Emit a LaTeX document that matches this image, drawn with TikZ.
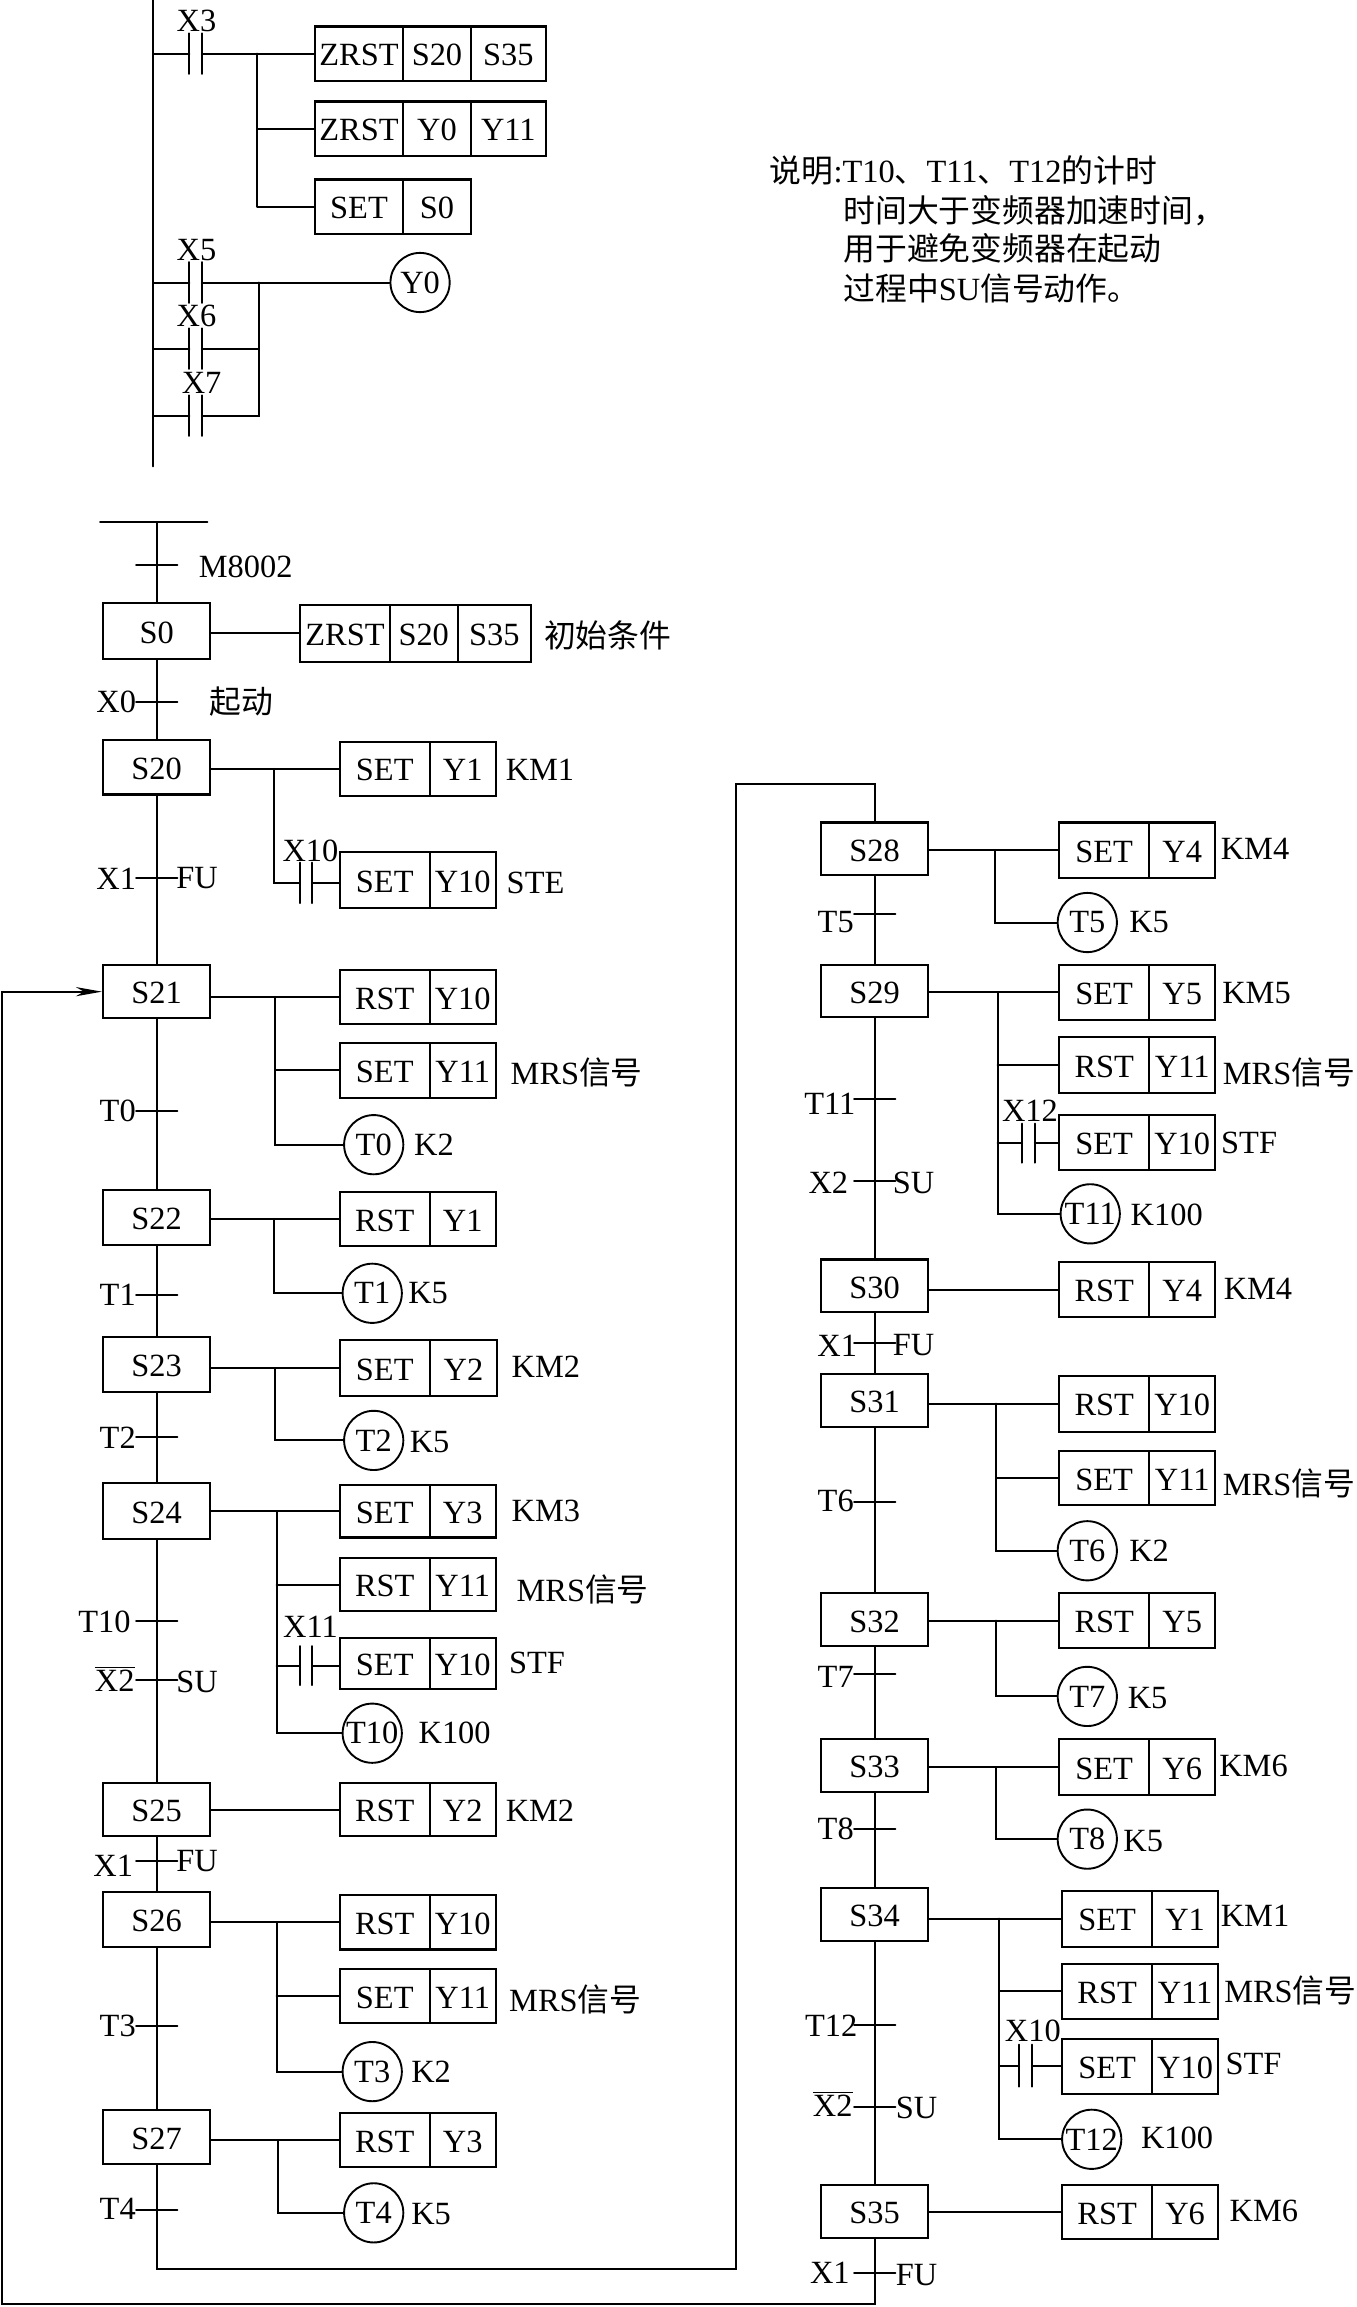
\documentclass[tikz,border=0pt]{standalone}
\usepackage{fontspec}
\setmainfont{Liberation Serif}
\newfontfamily\cjkf{Noto Sans CJK SC}
\newcommand{\cjk}{\cjkf\fontsize{15.9}{18}\selectfont}
\usetikzlibrary{arrows.meta}
\newcount\labc
\tikzset{
  wire/.style={line width=1pt,line cap=round},
  stepbox/.style={draw,line width=1.05pt,rectangle,inner sep=0pt,text height=12.2pt,text depth=0pt},
  cellbox/.style={draw,line width=1.05pt,rectangle,inner sep=0pt,text height=12.2pt,text depth=0pt},
  coilc/.style={draw,line width=0.95pt,circle,inner sep=0pt,minimum size=29.6pt},
  contactn/.style={rectangle,inner sep=0pt,minimum width=5.9pt,minimum height=19.5pt},
  lbl/.style={inner sep=0pt},
  every node/.append style={font=\fontsize{16.2}{18}\selectfont}
}
% step: name, cx, y1, y2
\newcommand{\stepn}[4]{\node[stepbox,minimum width=53.7pt,minimum height={(#4-#3)*0.7354pt}] (#1) at (#2,{(#3+#4)/2}) {#1};}
% two cells: name, x1,x2,x3, y1,y2, t1,t2
\newcommand{\cellsb}[8]{%
  \node[cellbox,minimum width={(#3-#2)*0.7354pt},minimum height={(#6-#5)*0.7354pt}] (#1) at ({(#2+#3)/2},{(#5+#6)/2}) {#7};
  \node[cellbox,minimum width={(#4-#3)*0.7354pt},minimum height={(#6-#5)*0.7354pt}] (#1b) at ({(#3+#4)/2},{(#5+#6)/2}) {#8};}
% extra third cell: name, x1,x2, y1,y2, text
\newcommand{\cellx}[6]{\node[cellbox,minimum width={(#3-#2)*0.7354pt},minimum height={(#5-#4)*0.7354pt}] (#1) at ({(#2+#3)/2},{(#4+#5)/2}) {#6};}
% label
\newcommand{\lab}[3]{\global\advance\labc by 1\node[lbl] (lab\the\labc) at (#1,#2) {#3};}
% coil: name,cx,cy,text
\newcommand{\coil}[4]{\node[coilc] (#1) at (#2,#3) {#4};}
% tick: x,y
\newcommand{\tickm}[2]{\draw[wire] ({#1-14},#2) -- ({#1+14},#2);}
% contact: name,cx,cy,half height
\newcommand{\contact}[4]{\node[contactn,minimum height={2*#4*0.7354pt}] (#1) at (#2,#3) {};
  \draw[wire] (#1.north west) -- (#1.south west) (#1.north east) -- (#1.south east);}
\newcommand{\xbar}{$\overline{\hbox{X2}}$}
\newcommand{\mrs}{MRS{\cjk 信号}}
\begin{document}
\begin{tikzpicture}[x=0.7354pt,y=-0.7354pt]
\useasboundingbox (0,0) rectangle (922,1568);
\fill[white] (0,0) rectangle (922,1568);
% ---- ladder
\coordinate (railt) at (104,0);
\coordinate (railb) at (104,317);
\draw[wire] (railt) -- (railb);
\contact{cX3}{133}{36.5}{13.5}
\lab{133.5}{14}{X3}
\cellsb{zA}{214}{274}{320}{18}{55}{ZRST}{S20}
\cellx{zAc}{320}{371}{18}{55}{S35}
\cellsb{zB}{214}{274}{320}{69}{106}{ZRST}{Y0}
\cellx{zBc}{320}{371}{69}{106}{Y11}
\cellsb{zC}{214}{274}{320}{122}{159}{SET}{S0}
\coordinate (brL) at (175,0);
\draw[wire] (railt |- cX3.west) -- (cX3.west);
\draw[wire] (cX3.east) -- (zA.west);
\draw[wire] (brL |- zA.west) -- (brL |- zC.west);
\draw[wire] (brL |- zB.west) -- (zB.west);
\draw[wire] (brL |- zC.west) -- (zC.west);
\contact{cX5}{133}{192}{13.5}
\contact{cX6}{133}{237}{13.5}
\contact{cX7}{133}{282.5}{13.5}
\lab{133.5}{170}{X5}
\lab{133.5}{215}{X6}
\lab{137}{260}{X7}
\coil{cY0}{285.5}{192}{Y0}
\coordinate (brR) at (176,0);
\draw[wire] (railt |- cX5.west) -- (cX5.west);
\draw[wire] (cX5.east) -- (cY0.west);
\draw[wire] (railt |- cX6.west) -- (cX6.west);
\draw[wire] (cX6.east) -- (brR |- cX6.east);
\draw[wire] (railt |- cX7.west) -- (cX7.west);
\draw[wire] (cX7.east) -- (brR |- cX7.east) -- (brR |- cX5.east);
% ---- description
\node[lbl,anchor=west] (dA) at (523,116) {{\cjk 说明}:T10{\cjk 、}T11{\cjk 、}T12{\cjk 的计时}};
\node[lbl,anchor=west] (dB) at (573,143) {{\cjk 时间大于变频器加速时间，}};
\node[lbl,anchor=west] (dC) at (573,169) {{\cjk 用于避免变频器在起动}};
\node[lbl,anchor=west] (dD) at (573,196) {{\cjk 过程中}SU{\cjk 信号动作。}};
% ---- left column
\coordinate (barL) at (68,355);
\coordinate (barR) at (141,355);
\coordinate (barM) at (106.5,355);
\draw[wire] (barL) -- (barR);
\stepn{S0}{106.5}{410}{448}
\stepn{S20}{106.5}{503}{540}
\stepn{S21}{106.5}{656}{692}
\stepn{S22}{106.5}{809}{846}
\stepn{S23}{106.5}{909}{946}
\stepn{S24}{106.5}{1008}{1046}
\stepn{S25}{106.5}{1212}{1248}
\stepn{S26}{106.5}{1286}{1323}
\stepn{S27}{106.5}{1434}{1471}
\draw[wire] (barM) -- (S0.north);
\draw[wire] (S0) -- (S20);
\draw[wire] (S20) -- (S21);
\draw[wire] (S21) -- (S22);
\draw[wire] (S22) -- (S23);
\draw[wire] (S23) -- (S24);
\draw[wire] (S24) -- (S25);
\draw[wire] (S25) -- (S26);
\draw[wire] (S26) -- (S27);
\tickm{106.5}{384}\lab{167}{385}{M8002}
\cellsb{a0}{204}{265}{311}{411}{450}{ZRST}{S20}
\cellx{a0c}{311}{361}{411}{450}{S35}
\draw[wire] (S0.east |- a0.west) -- (a0.west);
\lab{413}{432}{\cjk 初始条件}
\tickm{106.5}{477}\lab{79}{477}{X0}\lab{164}{477}{\cjk 起动}
% S20
\cellsb{a1}{231}{292}{337}{504}{541}{SET}{Y1}
\lab{367}{523}{KM1}
\contact{cX10}{208}{600}{13.5}
\lab{211}{578}{X10}
\cellsb{a2}{231}{292}{337}{579}{617}{SET}{Y10}
\lab{364}{600}{STE}
\coordinate (b20) at (186,0);
\draw[wire] (S20.east |- a1.west) -- (a1.west);
\draw[wire] (b20 |- a1.west) -- (b20 |- cX10.west) -- (cX10.west);
\draw[wire] (cX10.east) -- (a2.west |- cX10.east);
\tickm{106.5}{597}\lab{79}{597}{X1}\lab{134}{597}{FU}
% S21
\cellsb{a3}{231}{292}{337}{659}{696}{RST}{Y10}
\cellsb{a4}{231}{292}{337}{709}{746}{SET}{Y11}
\lab{392}{729}{\mrs}
\coil{cT0}{254}{778}{T0}\lab{295}{778}{K2}
\coordinate (b21) at (187,0);
\draw[wire] (S21.east |- a3.west) -- (a3.west);
\draw[wire] (b21 |- a3.west) -- (b21 |- cT0.west) -- (cT0.west);
\draw[wire] (b21 |- a4.west) -- (a4.west);
\tickm{106.5}{755}\lab{80}{755}{T0}
% S22
\cellsb{a5}{231}{292}{337}{810}{847}{RST}{Y1}
\coil{cT1}{253}{879}{T1}\lab{291}{879}{K5}
\coordinate (b22) at (186,0);
\draw[wire] (S22.east |- a5.west) -- (a5.west);
\draw[wire] (b22 |- a5.west) -- (b22 |- cT1.west) -- (cT1.west);
\tickm{106.5}{880}\lab{80}{880}{T1}
% S23
\cellsb{a6}{231}{292}{338}{911}{949}{SET}{Y2}
\lab{371}{929}{KM2}
\coil{cT2}{254}{979}{T2}\lab{292}{980}{K5}
\coordinate (b23) at (187,0);
\draw[wire] (S23.east |- a6.west) -- (a6.west);
\draw[wire] (b23 |- a6.west) -- (b23 |- cT2.west) -- (cT2.west);
\tickm{106.5}{977}\lab{80}{977}{T2}
% S24
\cellsb{a7}{231}{292}{337}{1009}{1045}{SET}{Y3}
\lab{371}{1027}{KM3}
\cellsb{a8}{231}{292}{337}{1059}{1095}{RST}{Y11}
\lab{396}{1080}{\mrs}
\contact{cX11}{208}{1132}{13}
\lab{211}{1106}{X11}
\cellsb{a9}{231}{292}{337}{1113}{1148}{SET}{Y10}
\lab{365}{1130}{STF}
\coil{cT10}{253}{1178}{T10}\lab{309}{1178}{K100}
\coordinate (b24) at (188,0);
\draw[wire] (S24.east |- a7.west) -- (a7.west);
\draw[wire] (b24 |- a7.west) -- (b24 |- cT10.west) -- (cT10.west);
\draw[wire] (b24 |- a8.west) -- (a8.west);
\draw[wire] (b24 |- cX11.west) -- (cX11.west);
\draw[wire] (cX11.east) -- (a9.west |- cX11.east);
\tickm{106.5}{1102}\lab{71}{1102}{T10}
\tickm{106.5}{1142}\lab{78}{1141}{\xbar}\lab{134}{1143}{SU}
% S25
\cellsb{a10}{231}{292}{337}{1212}{1248}{RST}{Y2}
\lab{367}{1231}{KM2}
\draw[wire] (S25.east |- a10.west) -- (a10.west);
\tickm{106.5}{1265}\lab{77}{1268}{X1}\lab{134}{1265}{FU}
% S26
\cellsb{a11}{231}{292}{337}{1288}{1325}{RST}{Y10}
\cellsb{a12}{231}{292}{337}{1338}{1375}{SET}{Y11}
\lab{391}{1359}{\mrs}
\coil{cT3}{253}{1408}{T3}\lab{293}{1408}{K2}
\coordinate (b26) at (188,0);
\draw[wire] (S26.east |- a11.west) -- (a11.west);
\draw[wire] (b26 |- a11.west) -- (b26 |- cT3.west) -- (cT3.west);
\draw[wire] (b26 |- a12.west) -- (a12.west);
\tickm{106.5}{1377}\lab{80}{1377}{T3}
% S27
\cellsb{a13}{231}{292}{337}{1436}{1473}{RST}{Y3}
\coil{cT4}{254}{1504}{T4}\lab{293}{1505}{K5}
\coordinate (b27) at (189,0);
\draw[wire] (S27.east |- a13.west) -- (a13.west);
\draw[wire] (b27 |- a13.west) -- (b27 |- cT4.west) -- (cT4.west);
\tickm{106.5}{1502}\lab{80}{1501}{T4}
% ---- right column
\stepn{S28}{594.5}{559}{595}
\stepn{S29}{594.5}{656}{691}
\stepn{S30}{594.5}{856}{892}
\stepn{S31}{594.5}{934}{970}
\stepn{S32}{594.5}{1083}{1119}
\stepn{S33}{594.5}{1182}{1218}
\stepn{S34}{594.5}{1283}{1319}
\stepn{S35}{594.5}{1485}{1521}
\draw[wire] (S28) -- (S29);
\draw[wire] (S29) -- (S30);
\draw[wire] (S30) -- (S31);
\draw[wire] (S31) -- (S32);
\draw[wire] (S32) -- (S33);
\draw[wire] (S33) -- (S34);
\draw[wire] (S34) -- (S35);
% long connectors
\coordinate (jA) at (500,1542);
\coordinate (jB) at (500,533);
\coordinate (jC) at (1.5,1566);
\coordinate (jD) at (1.5,674);
\draw[wire] (S27.south) -- (S27.south |- jA) -- (jA) -- (jB) -- (S28.north |- jB) -- (S28.north);
\draw[wire,-{Stealth[length=13pt,width=4.6pt,inset=4pt]}] (S35.south) -- (S35.south |- jC) -- (jC) -- (jD) -- (S21.west |- jD);
% S28
\cellsb{b0}{720}{781}{826}{559}{597}{SET}{Y4}
\lab{853}{577}{KM4}
\coil{cT5}{739}{627}{T5}\lab{781}{627}{K5}
\coordinate (c28) at (676,0);
\draw[wire] (S28.east |- b0.west) -- (b0.west);
\draw[wire] (c28 |- b0.west) -- (c28 |- cT5.west) -- (cT5.west);
\tickm{594.5}{621}\lab{568}{627}{T5}
% S29
\cellsb{b1}{720}{781}{826}{656}{693}{SET}{Y5}
\lab{854}{675}{KM5}
\cellsb{b2}{720}{781}{826}{705}{743}{RST}{Y11}
\lab{876}{729}{\mrs}
\contact{cX12}{699}{777}{13}
\lab{700}{755}{X12}
\cellsb{b3}{720}{781}{826}{758}{795}{SET}{Y10}
\lab{849}{777}{STF}
\coil{cT11}{741}{825}{T11}\lab{793}{826}{K100}
\coordinate (c29) at (678,0);
\draw[wire] (S29.east |- b1.west) -- (b1.west);
\draw[wire] (c29 |- b1.west) -- (c29 |- cT11.west) -- (cT11.west);
\draw[wire] (c29 |- b2.west) -- (b2.west);
\draw[wire] (c29 |- cX12.west) -- (cX12.west);
\draw[wire] (cX12.east) -- (b3.west |- cX12.east);
\tickm{594.5}{747}\lab{564}{750}{T11}
\tickm{594.5}{803}\lab{563}{804}{X2}\lab{621}{804}{SU}
% S30
\cellsb{b4}{720}{781}{826}{858}{895}{RST}{Y4}
\lab{855}{876}{KM4}
\draw[wire] (S30.east |- b4.west) -- (b4.west);
\tickm{594.5}{913}\lab{569}{915}{X1}\lab{621}{914}{FU}
% S31
\cellsb{b5}{720}{781}{826}{935}{973}{RST}{Y10}
\cellsb{b6}{720}{781}{826}{986}{1023}{SET}{Y11}
\lab{876}{1008}{\mrs}
\coil{cT6}{739}{1054}{T6}\lab{781}{1054}{K2}
\coordinate (c31) at (677,0);
\draw[wire] (S31.east |- b5.west) -- (b5.west);
\draw[wire] (c31 |- b5.west) -- (c31 |- cT6.west) -- (cT6.west);
\draw[wire] (c31 |- b6.west) -- (b6.west);
\tickm{594.5}{1021}\lab{568}{1020}{T6}
% S32
\cellsb{b7}{720}{781}{826}{1083}{1120}{RST}{Y5}
\coil{cT7}{739}{1153}{T7}\lab{780}{1154}{K5}
\coordinate (c32) at (677,0);
\draw[wire] (S32.east |- b7.west) -- (b7.west);
\draw[wire] (c32 |- b7.west) -- (c32 |- cT7.west) -- (cT7.west);
\tickm{594.5}{1138}\lab{568}{1140}{T7}
% S33
\cellsb{b8}{720}{781}{826}{1182}{1220}{SET}{Y6}
\lab{852}{1200}{KM6}
\coil{cT8}{739}{1250}{T8}\lab{777}{1251}{K5}
\coordinate (c33) at (677,0);
\draw[wire] (S33.east |- b8.west) -- (b8.west);
\draw[wire] (c33 |- b8.west) -- (c33 |- cT8.west) -- (cT8.west);
\tickm{594.5}{1243}\lab{568}{1243}{T8}
% S34
\cellsb{b9}{722}{783}{828}{1285}{1323}{SET}{Y1}
\lab{853}{1302}{KM1}
\cellsb{b10}{722}{783}{828}{1335}{1372}{RST}{Y11}
\lab{877}{1353}{\mrs}
\contact{cX10b}{697}{1404}{14}
\lab{702}{1380}{X10}
\cellsb{b11}{722}{783}{828}{1386}{1423}{SET}{Y10}
\lab{852}{1403}{STF}
\coil{cT12}{742}{1454}{T12}\lab{800}{1453}{K100}
\coordinate (c34) at (679,0);
\draw[wire] (S34.east |- b9.west) -- (b9.west);
\draw[wire] (c34 |- b9.west) -- (c34 |- cT12.west) -- (cT12.west);
\draw[wire] (c34 |- b10.west) -- (b10.west);
\draw[wire] (c34 |- cX10b.west) -- (cX10b.west);
\draw[wire] (cX10b.east) -- (b11.west |- cX10b.east);
\tickm{594.5}{1376}\lab{565}{1377}{T12}
\tickm{594.5}{1432}\lab{566}{1430}{\xbar}\lab{623}{1433}{SU}
% S35
\cellsb{b12}{722}{783}{828}{1485}{1522}{RST}{Y6}
\lab{859}{1503}{KM6}
\draw[wire] (S35.east |- b12.west) -- (b12.west);
\tickm{594.5}{1545}\lab{564}{1545}{X1}\lab{623}{1546}{FU}
\end{tikzpicture}
\end{document}
